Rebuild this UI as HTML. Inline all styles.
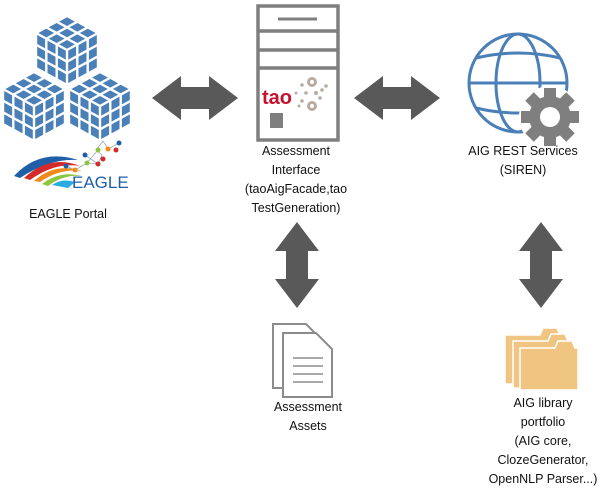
<!DOCTYPE html>
<html><head><meta charset="utf-8"><style>
html,body{margin:0;padding:0;background:#fff;}
svg{display:block;}
text{font-family:"Liberation Sans",sans-serif;font-size:12.5px;fill:#111;}
</style></head><body>
<svg width="613" height="497" viewBox="0 0 613 497" xmlns="http://www.w3.org/2000/svg">
<defs>
<g id="cube">
<polygon points="0,0 31,17 31,52 0,69 -31,52 -31,17" fill="#4a7fb8"/>
<g stroke="#fff" stroke-width="2.4" fill="none">
<polygon points="0,0 31,17 31,52 0,69 -31,52 -31,17"/>
<polyline points="-31,17 0,34 31,17"/><line x1="0" y1="34" x2="0" y2="69"/>
<line x1="10.3" y1="5.7" x2="-20.7" y2="22.7"/><line x1="20.7" y1="11.3" x2="-10.3" y2="28.3"/>
<line x1="-10.3" y1="5.7" x2="20.7" y2="22.7"/><line x1="-20.7" y1="11.3" x2="10.3" y2="28.3"/>
<line x1="-10.3" y1="28.3" x2="-10.3" y2="63.3"/><line x1="-20.7" y1="22.7" x2="-20.7" y2="57.7"/>
<line x1="-31" y1="28.7" x2="0" y2="45.7"/><line x1="-31" y1="40.3" x2="0" y2="57.3"/>
<line x1="10.3" y1="28.3" x2="10.3" y2="63.3"/><line x1="20.7" y1="22.7" x2="20.7" y2="57.7"/>
<line x1="31" y1="28.7" x2="0" y2="45.7"/><line x1="31" y1="40.3" x2="0" y2="57.3"/>
</g>
</g>
<polygon id="harrow" points="0,22 29,0 29,11 57,11 57,0 86,22 57,44 57,33 29,33 29,44" fill="#595959"/>
</defs>
<!-- cubes -->
<use href="#cube" x="67" y="16"/>
<use href="#cube" x="34" y="72"/>
<use href="#cube" x="100" y="72"/>
<!-- eagle logo -->
<path d="M14,176 Q40,148 78,160 Q50,158 20,178 Z" fill="#1f5fa8"/>
<path d="M24,178 Q50,154 80,166 Q55,162 30,180 Z" fill="#d62a2a"/>
<path d="M34,181 Q55,162 82,171 Q60,168 40,182 Z" fill="#f08a1c"/>
<path d="M42,184 Q60,170 82,176 Q64,174 48,186 Z" fill="#8cc63f"/>
<path d="M52,185 Q62,178 75,182 L68,188 Z" fill="#29abe2"/>
<g stroke="#9ab" stroke-width="0.8" fill="none"><polyline points="66,166 75,170 87,163 98,164 102,155 96,150 103,141 108,149 119,143"/><line x1="87" y1="163" x2="98" y2="150"/><line x1="85" y1="155" x2="98" y2="164"/></g>
<g><circle cx="66" cy="166" r="2.5" fill="#1f5fa8"/><circle cx="75" cy="170" r="2.5" fill="#f08a1c"/><circle cx="87" cy="163" r="2.5" fill="#8cc63f"/><circle cx="85" cy="155" r="2.5" fill="#1f5fa8"/><circle cx="98" cy="164" r="2.5" fill="#d62a2a"/><circle cx="98" cy="150" r="2.5" fill="#8cc63f"/><circle cx="103" cy="159" r="2.5" fill="#d62a2a"/><circle cx="108" cy="149" r="2.5" fill="#f08a1c"/><circle cx="116" cy="150" r="2.5" fill="#d62a2a"/><circle cx="119" cy="143" r="2.5" fill="#1f5fa8"/></g>
<text x="72" y="188" style="font-size:17px;fill:#1f5fa8">EAGLE</text>
<text x="68" y="218" text-anchor="middle">EAGLE Portal</text>
<!-- server -->
<g fill="none" stroke="#7f7f7f" stroke-width="3.5">
<rect x="258" y="6" width="80" height="134"/>
<line x1="258" y1="31" x2="338" y2="31"/><line x1="258" y1="50" x2="338" y2="50"/><line x1="258" y1="68" x2="338" y2="68"/>
</g>
<line x1="278" y1="19" x2="317" y2="19" stroke="#7f7f7f" stroke-width="3"/>
<rect x="270" y="113" width="13" height="15" fill="#7f7f7f"/>
<text x="262" y="104" style="font-size:20px;font-weight:bold;fill:#c8102e">tao</text>
<g fill="#b8aca0"><circle cx="312" cy="82" r="5"/><circle cx="312" cy="106" r="5"/><circle cx="302" cy="85" r="1.8"/><circle cx="306" cy="93" r="1.8"/><circle cx="316" cy="93" r="2"/><circle cx="322" cy="90" r="1.8"/><circle cx="326" cy="86" r="1.8"/><circle cx="302" cy="101" r="1.8"/><circle cx="320" cy="98" r="1.8"/><circle cx="296" cy="93" r="1.5"/><circle cx="299" cy="106" r="1.5"/></g>
<g fill="#fff"><circle cx="312" cy="82" r="2"/><circle cx="312" cy="106" r="2"/></g>
<!-- horizontal arrows -->
<use href="#harrow" x="152" y="76"/>
<use href="#harrow" x="354" y="76"/>
<!-- globe -->
<g fill="none" stroke="#4a7fb8" stroke-width="3">
<circle cx="518" cy="83" r="49"/>
<line x1="469" y1="83" x2="567" y2="83"/>
<path d="M476,58 Q518,48 560,58"/><path d="M476,108 Q518,118 560,108"/>
<ellipse cx="518" cy="83" rx="22" ry="49"/>
</g>
<g transform="translate(550,117)">
<circle r="31" fill="#fff"/>
<g fill="#7f7f7f">
<circle r="21"/>
<rect x="-6" y="-29" width="12" height="58"/>
<rect x="-6" y="-29" width="12" height="58" transform="rotate(45)"/>
<rect x="-6" y="-29" width="12" height="58" transform="rotate(90)"/>
<rect x="-6" y="-29" width="12" height="58" transform="rotate(135)"/>
</g>
<circle r="10" fill="#fff"/>
</g>
<text x="523" y="155" text-anchor="middle">AIG REST Services</text>
<text x="523" y="174" text-anchor="middle">(SIREN)</text>
<!-- server labels -->
<text x="296" y="155" text-anchor="middle">Assessment</text>
<text x="296" y="174" text-anchor="middle">Interface</text>
<text x="296" y="193" text-anchor="middle">(taoAigFacade,tao</text>
<text x="296" y="212" text-anchor="middle">TestGeneration)</text>
<!-- vertical arrows -->
<use href="#harrow" transform="translate(319,222) rotate(90)"/>
<use href="#harrow" transform="translate(563,222) rotate(90)"/>
<!-- documents -->
<g stroke="#8c8c8c" stroke-width="2" fill="#fff">
<path d="M273,324 L306,324 L322,340 L322,388 L273,388 Z"/>
<path d="M283,333 L316,333 L332,349 L332,397 L283,397 Z"/>
</g>
<g stroke="#8c8c8c" stroke-width="1.5"><line x1="293" y1="358" x2="323" y2="358"/><line x1="293" y1="366" x2="323" y2="366"/><line x1="293" y1="374" x2="323" y2="374"/><line x1="293" y1="382" x2="323" y2="382"/></g>
<text x="308" y="411" text-anchor="middle">Assessment</text>
<text x="308" y="430" text-anchor="middle">Assets</text>
<!-- folders -->
<g fill="#f0c582" stroke="#fff" stroke-width="1.5">
<path d="M505,335 L540,335 L543,328 L557,328 L560,335 L565,335 L565,384 L505,384 Z"/>
<path d="M513,341 L548,341 L551,334 L565,334 L568,341 L573,341 L573,388 L513,388 Z"/>
<path d="M520,348 L555,348 L558,341 L572,341 L575,348 L578,348 L578,390 L520,390 Z"/>
</g>
<text x="543" y="407" text-anchor="middle">AIG library</text>
<text x="543" y="426" text-anchor="middle">portfolio</text>
<text x="543" y="445" text-anchor="middle">(AIG core,</text>
<text x="543" y="464" text-anchor="middle">ClozeGenerator,</text>
<text x="543" y="483" text-anchor="middle">OpenNLP Parser...)</text>
</svg>
</body></html>
